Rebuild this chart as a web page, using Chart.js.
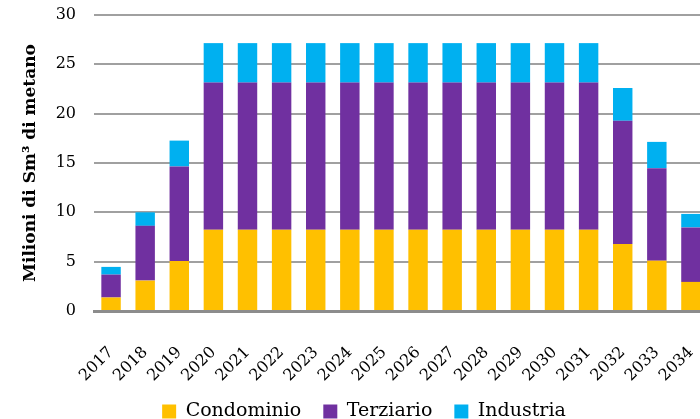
<!DOCTYPE html>
<html>
<head>
<meta charset="utf-8">
<script src="https://cdn.jsdelivr.net/npm/chart.js@4/dist/chart.umd.min.js"></script>
<style>
  html, body { margin: 0; padding: 0; background: #fff; overflow: hidden; }
  #wrap { width: 700px; height: 419px; overflow: hidden; position: relative; }
  canvas { display: block; }
</style>
</head>
<body>
<div id="wrap"><canvas id="c" width="708" height="419"></canvas></div>
<script>
const years = ["2017","2018","2019","2020","2021","2022","2023","2024","2025","2026","2027","2028","2029","2030","2031","2032","2033","2034"];
const condominio = [1.37, 3.08, 5.07, 8.23, 8.23, 8.23, 8.23, 8.23, 8.23, 8.23, 8.23, 8.23, 8.23, 8.23, 8.23, 6.78, 5.10, 2.95];
const terziario  = [2.32, 5.55, 9.58, 14.92, 14.92, 14.92, 14.92, 14.92, 14.92, 14.92, 14.92, 14.92, 14.92, 14.92, 14.92, 12.50, 9.38, 5.52];
const industria  = [0.78, 1.37, 2.62, 4.00, 4.00, 4.00, 4.00, 4.00, 4.00, 4.00, 4.00, 4.00, 4.00, 4.00, 4.00, 3.32, 2.66, 1.37];
const yTicks = [0, 5, 10, 15, 20, 25, 30];

const serif = "'DejaVu Serif', 'Liberation Serif', serif";

// shift legend down a little and let the rotated year labels use the space below the axis box
const layoutTweak = {
  id: 'layoutTweak',
  afterLayout(chart) {
    const lg = chart.legend;
    if (lg) { lg.top += 12; lg.bottom += 12; }
    const xs = chart.scales.x;
    if (xs) { xs.bottom = chart.height; }
  }
};

new Chart(document.getElementById('c'), {
  type: 'bar',
  data: {
    labels: years,
    datasets: [
      { label: 'Condominio', data: condominio, backgroundColor: '#FFC000' },
      { label: 'Terziario', data: terziario, backgroundColor: '#7030A0' },
      { label: 'Industria', data: industria, backgroundColor: '#00B0F0' }
    ]
  },
  plugins: [layoutTweak],
  options: {
    responsive: false,
    devicePixelRatio: 1,
    animation: false,
    layout: { padding: { left: 20, right: 0, top: 15, bottom: 0 } },
    datasets: { bar: { barPercentage: 0.57, categoryPercentage: 1.0 } },
    plugins: {
      tooltip: { enabled: false },
      legend: {
        position: 'bottom',
        labels: {
          font: { family: serif, size: 19 },
          color: '#000',
          boxWidth: 14,
          boxHeight: 14,
          padding: 22
        }
      }
    },
    scales: {
      x: {
        stacked: true,
        afterFit: (s) => { s.height = 57; s.paddingLeft = 0; s.paddingRight = 0; },
        grid: { display: false },
        border: { display: true, color: '#8c8c8c', width: 3 },
        ticks: {
          font: { family: serif, size: 16 },
          color: '#000',
          maxRotation: 45,
          minRotation: 45,
          padding: 24
        }
      },
      y: {
        stacked: true,
        min: 0,
        max: 30,
        afterFit: (s) => { s.width = 74; s.paddingTop = 0; s.paddingBottom = 0; },
        afterBuildTicks: (s) => { s.ticks = yTicks.map(v => ({ value: v })); },
        grid: { color: '#a0a0a0', lineWidth: 2, drawTicks: false },
        border: { display: false },
        ticks: {
          font: { family: serif, size: 16 },
          color: '#000',
          padding: 18
        },
        title: {
          display: true,
          text: 'Milioni di Sm³ di metano',
          font: { family: serif, size: 17, weight: 'bold' },
          color: '#000',
          padding: { top: 0, bottom: 0 }
        }
      }
    }
  }
});
</script>
</body>
</html>
